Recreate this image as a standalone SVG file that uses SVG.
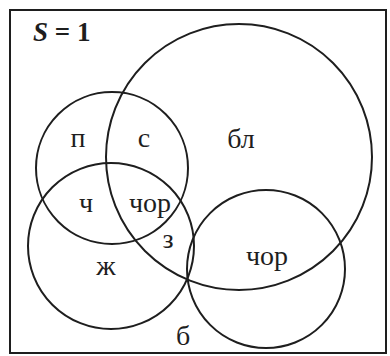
<svg xmlns="http://www.w3.org/2000/svg" width="390" height="356" viewBox="0 0 390 356">
<defs>
<style>
.c{fill:none;stroke:#1e1e1e;stroke-width:2}
</style>
</defs>
<rect x="0" y="0" width="390" height="356" fill="#ffffff"/>
<rect id="frame" class="c" x="10" y="10" width="376" height="343"/>
<text x="33" y="41" font-family="Liberation Serif, serif" font-size="27" font-weight="bold" fill="#1e1e1e"><tspan font-style="italic">S</tspan> = 1</text>
<g id="circle-bl"><circle class="c" cx="239" cy="157" r="133"/></g>
<g id="circle-ps"><circle class="c" cx="112" cy="168" r="76"/></g>
<g id="circle-zh"><circle class="c" cx="111" cy="246" r="83"/></g>
<g id="circle-chor"><circle class="c" cx="266" cy="269" r="79"/></g>
<g id="labels" font-family="Liberation Serif, serif" font-size="28" fill="#1e1e1e" text-anchor="middle">
<text x="78" y="147">п</text>
<text x="144" y="147">с</text>
<text x="241" y="148">бл</text>
<text x="86" y="212">ч</text>
<text x="150" y="212">чор</text>
<text x="168" y="248">з</text>
<text x="106" y="275">ж</text>
<text x="267" y="265">чор</text>
<text x="183" y="345">б</text>
</g>
</svg>
